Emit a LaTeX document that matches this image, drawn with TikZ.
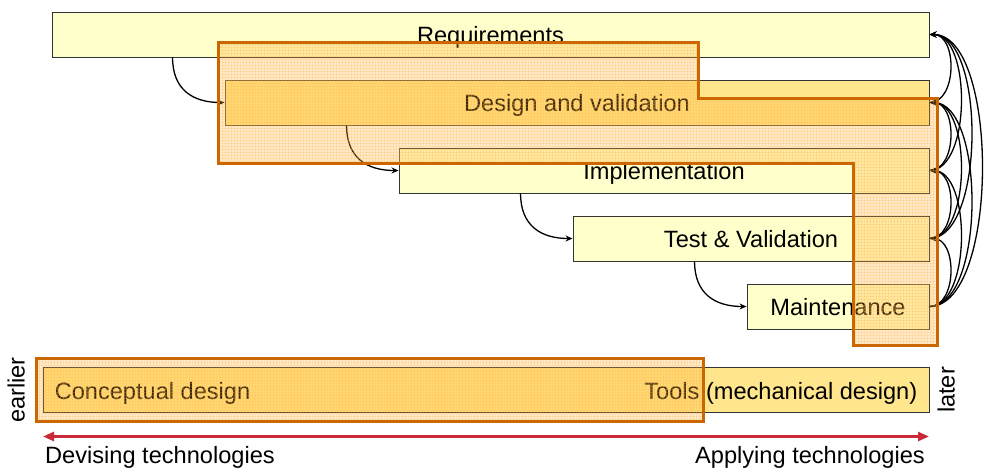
\documentclass[tikz,border=0pt]{standalone}
\usepackage{fontspec}
\setmainfont{Liberation Sans}
\usetikzlibrary{arrows.meta,patterns}
\definecolor{lightyel}{RGB}{255,255,204}
\definecolor{darkyel}{RGB}{255,230,140}
\definecolor{ovborder}{RGB}{204,102,0}
\definecolor{ovfill}{RGB}{255,170,40}
\definecolor{redarrow}{RGB}{204,41,54}
\tikzset{
  phase/.style={draw=black!80, line width=0.9pt, fill=lightyel, minimum height=45pt, inner sep=0pt, text height=17pt, text depth=0pt, font=\fontsize{23.6}{28}\selectfont},
  flow/.style={line width=1.3pt, -{Stealth[length=7pt,width=6pt]}},
  overlay/.style={draw=ovborder, line width=3pt, fill=ovfill, fill opacity=0.24},
  overlaypat/.style={pattern=grid, pattern color=ovfill!80!white, opacity=0.25},
  lbl/.style={font=\fontsize{23.6}{28}\selectfont, inner sep=0pt, text height=17pt, text depth=0pt},
}
\begin{document}
\begin{tikzpicture}[x=1pt,y=-1pt]
\useasboundingbox (0,0) rectangle (984,467);
% phase boxes
\node[phase, minimum width=877pt] (req) at (490.5,34.5) {Requirements};
\node[phase, fill=darkyel, minimum width=704pt] (des) at (577,102.5) {Design and validation};
\node[phase, minimum width=530pt] (imp) at (664,170.5) {Implementation};
\node[phase, minimum width=356pt] (tst) at (751,238.5) {Test \& Validation};
\node[phase, minimum width=182pt] (mnt) at (838,306.5) {Maintenance};
% bottom box
\node[phase, fill=darkyel, minimum width=886pt] (tools) at (486,389.5) {};
\node[lbl, anchor=west] (concept) at ([xshift=12pt,yshift=-1pt]tools.west) {Conceptual design};
\node[lbl, anchor=east] (toolstxt) at ([xshift=-12pt,yshift=-1pt]tools.east) {Tools (mechanical design)};
% left flow arrows
\draw[flow] ([xshift=121pt]req.south west) .. controls +(0,32) and +(-32,0) .. (des.west);
\draw[flow] ([xshift=122pt]des.south west) .. controls +(0,32) and +(-32,0) .. (imp.west);
\draw[flow] ([xshift=122pt]imp.south west) .. controls +(0,32) and +(-32,0) .. (tst.west);
\draw[flow] ([xshift=122pt]tst.south west) .. controls +(0,32) and +(-32,0) .. (mnt.west);
% right feedback arrows
\draw[flow] (des.east) .. controls +(28,0) and +(28,0) .. (req.east);
\draw[flow] (imp.east) .. controls +(28,0) and +(28,0) .. (des.east);
\draw[flow] (imp.east) .. controls +(42,0) and +(42,0) .. (req.east);
\draw[flow] (tst.east) .. controls +(28,0) and +(28,0) .. (imp.east);
\draw[flow] (tst.east) .. controls +(42,0) and +(42,0) .. (des.east);
\draw[flow] (tst.east) .. controls +(56,0) and +(56,0) .. (req.east);
\draw[flow] (mnt.east) .. controls +(28,0) and +(28,0) .. (tst.east);
\draw[flow] (mnt.east) .. controls +(42,0) and +(42,0) .. (imp.east);
\draw[flow] (mnt.east) .. controls +(56,0) and +(56,0) .. (des.east);
\draw[flow] (mnt.east) .. controls +(70,0) and +(70,0) .. (req.east);
% overlays
\path[overlaypat] (218,42) -- (698,42) -- (698,98) -- (937,98) -- (937,345) -- (853,345) -- (853,163) -- (218,163) -- cycle;
\draw[overlay] (218,42) -- (698,42) -- (698,98) -- (937,98) -- (937,345) -- (853,345) -- (853,163) -- (218,163) -- cycle;
\path[overlaypat] (36,358) rectangle (703,421);
\draw[overlay] (36,358) rectangle (703,421);
% side labels
\node[lbl, rotate=90] (earlier) at (16,390) {earlier};
\node[lbl, rotate=90] (later) at (946,390) {later};
% technologies arrow
\coordinate (aL) at (43,436.5);
\coordinate (aR) at (929,436.5);
\draw[redarrow, line width=2.5pt, {Triangle[length=11pt,width=9pt]}-{Triangle[length=11pt,width=9pt]}] (aL) -- (aR);
\node[lbl, anchor=west] (dev) at (45,455) {Devising technologies};
\node[lbl, anchor=east] (app) at (925,455) {Applying technologies};
\end{tikzpicture}
\end{document}
